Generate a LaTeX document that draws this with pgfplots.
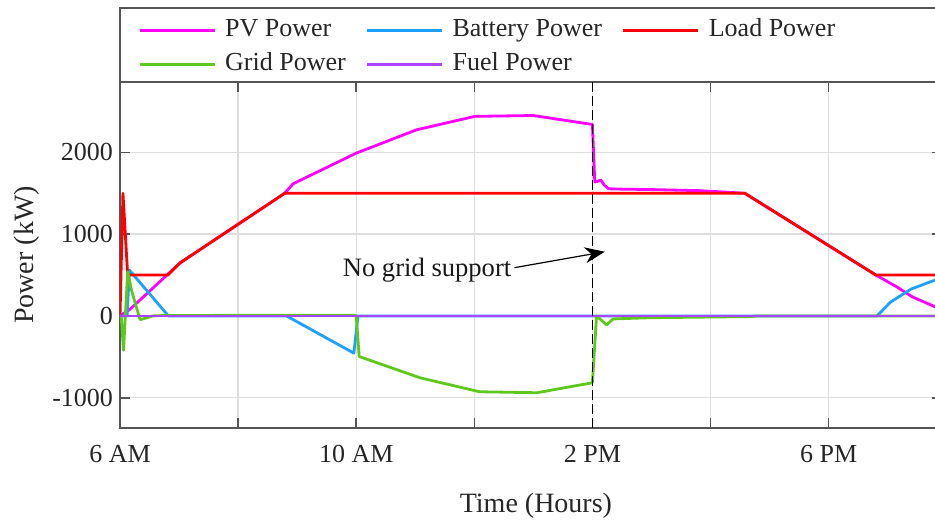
\documentclass[border=0pt]{standalone}
\usepackage{fontspec}
\setmainfont{Liberation Serif}
\usepackage{pgfplots}
\pgfplotsset{compat=1.18}
\usetikzlibrary{arrows.meta}

\definecolor{pvc}{RGB}{255,0,255}
\definecolor{batc}{RGB}{30,160,255}
\definecolor{loadc}{RGB}{255,0,0}
\definecolor{gridc}{RGB}{95,200,30}
\definecolor{fuelc}{RGB}{170,70,255}
\definecolor{axc}{RGB}{85,85,85}

\begin{document}
\begin{tikzpicture}
\begin{axis}[
  at={(0,0)}, anchor=south west,
  scale only axis, width=411pt, height=173pt,
  xmin=6, xmax=19.92, ymin=-1370, ymax=2860,
  xtick={6,8,...,18}, xticklabels={6 AM,,10 AM,,2 PM,,6 PM},
  ytick={-1000,0,1000,2000},
  tick align=inside, major tick length=5pt,
  xmajorgrids, ymajorgrids,
  grid style={draw=black!13, line width=0.7pt},
  axis line style={draw=axc, line width=0.9pt},
  tick style={draw=axc, line width=0.8pt},
  ticklabel style={font=\fontsize{13}{15}\selectfont, text=black!85},
  xticklabel style={yshift=-5pt},
  /pgf/number format/assume math mode=true,
  /pgf/number format/set thousands separator={},
  xlabel={Time (Hours)}, ylabel={Power (kW)},
  label style={font=\fontsize{14}{16}\selectfont, text=black!85},
  xlabel style={at={(axis description cs:0.506,-0.2255)}, anchor=center},
  ylabel style={at={(axis description cs:-0.1131,0.5)}, anchor=center},
  legend columns=3,
  legend cell align=left,
  legend image code/.code={\draw[#1] (0pt,0pt) -- (37.5pt,0pt);},
  legend style={draw=none, fill=none,
    at={(axis description cs:0,1)}, anchor=north west,
    xshift=6pt, yshift=34pt,
    font=\fontsize{13}{15}\selectfont, text=black!85,
    nodes={inner sep=0pt, text height=9pt, text depth=3pt},
    row sep=5pt,
    /tikz/every odd column/.append style={column sep=4.5pt},
    /tikz/every even column/.append style={column sep=10pt}},
  every axis plot/.append style={line width=1.4pt, line join=round},
]

% PV array output
\addplot[pvc] coordinates {
  (6.00,0) (6.05,25) (6.16,75) (7.02,650) (8.79,1500) (8.93,1615)
  (10.0,1990) (11.02,2275) (12.01,2440) (13.0,2450) (13.96,2345)
  (14.0,2340) (14.04,1638) (14.09,1645) (14.14,1662) (14.2,1600)
  (14.27,1557) (14.33,1552) (14.97,1545) (15.8,1532) (16.58,1500)
  (18.8,500) (19.15,357) (19.42,232) (19.92,75)};
\addlegendentry{PV Power}

% Battery charge/discharge
\addplot[batc] coordinates {
  (6.00,0) (6.12,0) (6.16,560) (6.82,0) (8.82,0) (9.96,-455) (10.03,0)
  (18.82,0) (19.05,170) (19.4,330) (19.92,470)};
\addlegendentry{Battery Power}

% Load demand
\addplot[loadc] coordinates {
  (6.00,0) (6.05,1500) (6.13,500) (6.81,500) (7.02,650) (8.79,1500)
  (16.58,1500) (18.8,500) (19.92,500)};
\addlegendentry{Load Power}

% Grid exchange
\addplot[gridc] coordinates {
  (6.00,0) (6.02,0) (6.06,-420) (6.13,540) (6.2,300) (6.34,-45)
  (6.42,-30) (6.55,0) (6.8,6) (9.95,8) (10.0,5) (10.05,-496)
  (11.08,-756) (12.09,-927) (13.06,-939) (14.0,-817) (14.07,0)
  (14.24,-110) (14.35,-37) (14.97,-22) (16.66,-8) (16.8,0) (19.92,0)};
\addlegendentry{Grid Power}

% Fuel generator
\addplot[fuelc] coordinates {(6,0) (19.92,0)};
\addlegendentry{Fuel Power}

% Grid disconnection instant
\addplot[black, line width=0.6pt, dash pattern=on 5pt off 2pt, forget plot]
  coordinates {(14,-1370) (14,2860)};

\node[font=\fontsize{13.3}{15}\selectfont, text=black!90] at (axis cs:11.2,561) {No grid support};
\draw[black, line width=0.6pt, -{Stealth[length=10pt, width=8pt]}]
  (axis cs:12.68,590) -- (axis cs:14.21,785);
\end{axis}

% legend frame on top of the plot box
\draw[axc, line width=0.9pt] (0,173pt) -- (0,210pt) -- (420pt,210pt);

\pgfresetboundingbox
\useasboundingbox (-60pt,-47pt) rectangle (407.5pt,214pt);
\end{tikzpicture}
\end{document}
